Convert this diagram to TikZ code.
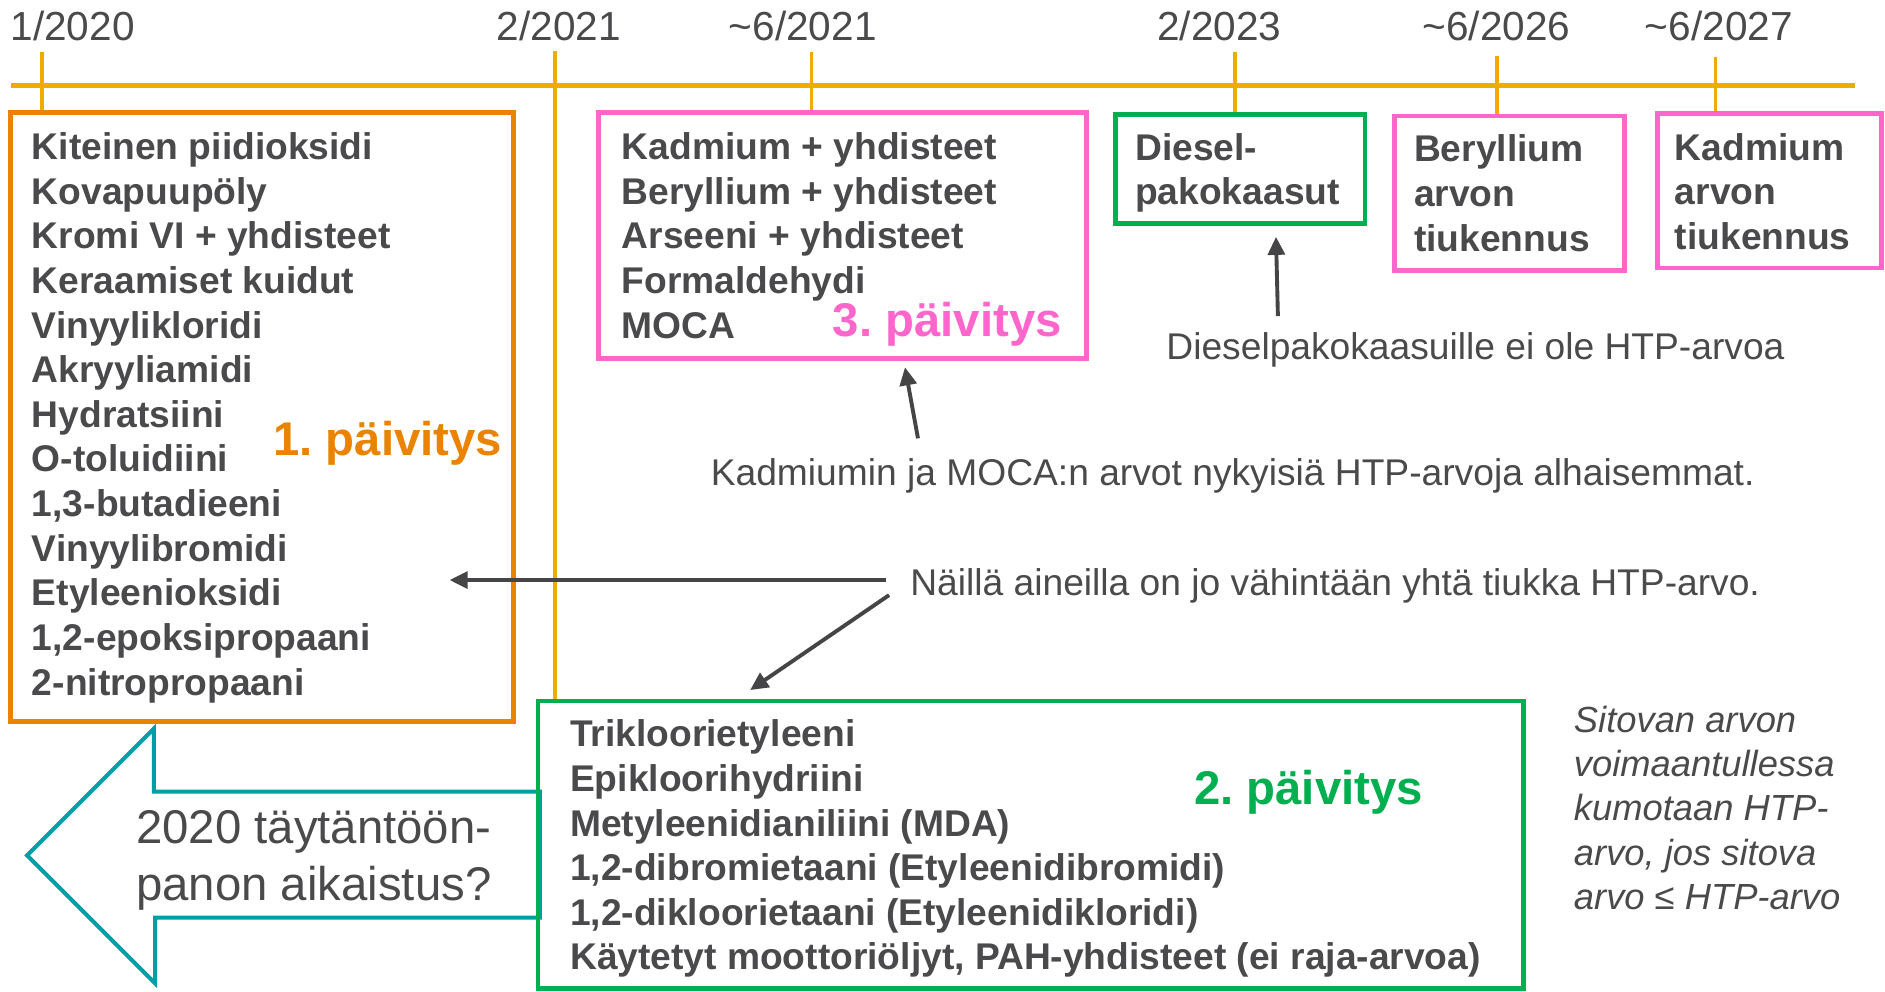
\documentclass[tikz,border=0pt]{standalone}
\usepackage{fontspec}
\setmainfont{Liberation Sans}
\usetikzlibrary{arrows.meta,fit}
\frenchspacing
\definecolor{tlc}{RGB}{240,171,0}
\definecolor{orangec}{RGB}{233,131,0}
\definecolor{pinkc}{RGB}{255,102,204}
\definecolor{greenc}{RGB}{0,176,80}
\definecolor{tealc}{RGB}{0,158,166}
\definecolor{txt}{RGB}{74,74,76}
\definecolor{arrowgray}{RGB}{69,69,71}
\begin{document}
\begin{tikzpicture}[x=0.025cm,y=-0.025cm,
  lst/.style={anchor=north west, inner sep=0, align=left, text=txt, font=\bfseries\fontsize{22}{26.4}\selectfont},
  note/.style={anchor=base west, inner sep=0, text=txt, font=\fontsize{22}{26.4}\selectfont},
  datelbl/.style={anchor=base west, inner sep=0, text=txt, font=\fontsize{24}{28.8}\selectfont},
  upd/.style={anchor=base west, inner sep=0, font=\bfseries\fontsize{28}{33.6}\selectfont},
  box/.style={draw=#1, line width=2.8pt, inner sep=0, line join=miter},
  tickln/.style={draw=tlc, line width=2.2pt},
  arr/.style={draw=arrowgray, line width=2.3pt, -{Triangle[length=0.375cm,width=0.35cm]}}
]
\useasboundingbox (0,0) rectangle (1568,825);

% timeline
\coordinate (tls) at (9,71);
\coordinate (tle) at (1543,71);
\draw[draw=tlc, line width=3pt] (tls) -- (tle);
\draw[tickln] (35,43.5) -- (35,93.5);
\draw[tickln] (461.6,42.4) -- (461.6,583);
\draw[tickln] (675,43.5) -- (675,93.5);
\draw[tickln] (1027.5,43.5) -- (1027.5,95);
\draw[tickln] (1245,46.6) -- (1245,96.5);
\draw[tickln] (1427,47.7) -- (1427,95);

% date labels
\node[datelbl] (d1) at (8.5,34) {1/2020};
\node[datelbl] (d2) at (413,34) {2/2021};
\node[datelbl] (d3) at (606,34) {\textasciitilde 6/2021};
\node[datelbl] (d4) at (962.5,34) {2/2023};
\node[datelbl] (d5) at (1183,34) {\textasciitilde 6/2026};
\node[datelbl] (d6) at (1368,34) {\textasciitilde 6/2027};

% teal block arrow
\draw[draw=tealc, line width=2.4pt, line join=miter]
  (449,658.5) -- (128,658.5) -- (128,606) -- (22.5,711.5) -- (129,818) -- (129,763.3) -- (449,763.3) -- cycle;
\node[anchor=north west, inner sep=0, align=left, text=txt, font=\fontsize{28}{33.6}\selectfont] (early) at (113,661.9)
  {\rule{0pt}{1em}2020 täytäntöön-\\panon aikaistus?};

% boxes
\node[box=orangec, fit={(8.5,93.5) (427,600)}] (b1) {};
\node[box=pinkc, fit={(498,93.5) (903.5,298)}] (b3) {};
\node[box=greenc, fit={(928,95) (1135.5,186)}] (bd) {};
\node[box=pinkc, fit={(1160,96.5) (1351,225)}] (bb) {};
\node[box=pinkc, fit={(1379,94.5) (1565,223)}] (bk) {};
\node[box=greenc, fit={(447.5,583) (1267,822)}] (b2) {};

% lists
\node[lst] (l1) at (26.3,101.5) {\rule{0pt}{1em}Kiteinen piidioksidi\\Kovapuupöly\\Kromi VI + yhdisteet\\Keraamiset kuidut\\Vinyylikloridi\\Akryyliamidi\\Hydratsiini\\O-toluidiini\\1,3-butadieeni\\Vinyylibromidi\\Etyleenioksidi\\1,2-epoksipropaani\\2-nitropropaani};
\node[lst] (l3) at (517,101.5) {\rule{0pt}{1em}Kadmium + yhdisteet\\Beryllium + yhdisteet\\Arseeni + yhdisteet\\Formaldehydi\\MOCA};
\node[lst] (ld) at (944,102) {\rule{0pt}{1em}Diesel-\\pakokaasut};
\node[lst] (lb) at (1176,103.5) {\rule{0pt}{1em}Beryllium\\arvon\\tiukennus};
\node[lst] (lk) at (1393,102) {\rule{0pt}{1em}Kadmium\\arvon\\tiukennus};
\node[lst] (l2) at (474,590) {\rule{0pt}{1em}Trikloorietyleeni\\Epikloorihydriini\\Metyleenidianiliini (MDA)\\1,2-dibromietaani (Etyleenidibromidi)\\1,2-dikloorietaani (Etyleenidikloridi)\\Käytetyt moottoriöljyt, PAH-yhdisteet (ei raja-arvoa)};

% update labels
\node[upd, text=orangec] (p1) at (227,378.5) {1. päivitys};
\node[upd, text=pinkc] (p3) at (692.6,279.5) {3. päivitys};
\node[upd, text=greenc] (p2) at (993,669) {2. päivitys};

% notes
\node[note] (n1) at (970,299) {Dieselpakokaasuille ei ole HTP-arvoa};
\node[note] (n2) at (591,404) {Kadmiumin ja MOCA:n arvot nykyisiä HTP-arvoja alhaisemmat.};
\node[note] (n3) at (757,495) {Näillä aineilla on jo vähintään yhtä tiukka HTP-arvo.};
\node[anchor=north west, inner sep=0, align=left, text=txt, font=\itshape\fontsize{21.5}{26.2}\selectfont] (n4) at (1309,578.5)
  {\rule{0pt}{1em}Sitovan arvon\\voimaantullessa\\kumotaan HTP-\\arvo, jos sitova\\arvo ≤ HTP-arvo};

% arrows
\coordinate (a1s) at (1063,263);
\coordinate (a1e) at (1061.4,197);
\coordinate (a2s) at (763.6,364.6);
\coordinate (a2e) at (752.8,305.5);
\coordinate (a3s) at (737,482.5);
\coordinate (a3e) at (374,482.5);
\coordinate (a4s) at (739.6,495);
\coordinate (a4e) at (624,574);
\draw[arr] (a1s) -- (a1e);
\draw[arr] (a2s) -- (a2e);
\draw[arr] (a3s) -- (a3e);
\draw[arr] (a4s) -- (a4e);
\end{tikzpicture}
\end{document}
